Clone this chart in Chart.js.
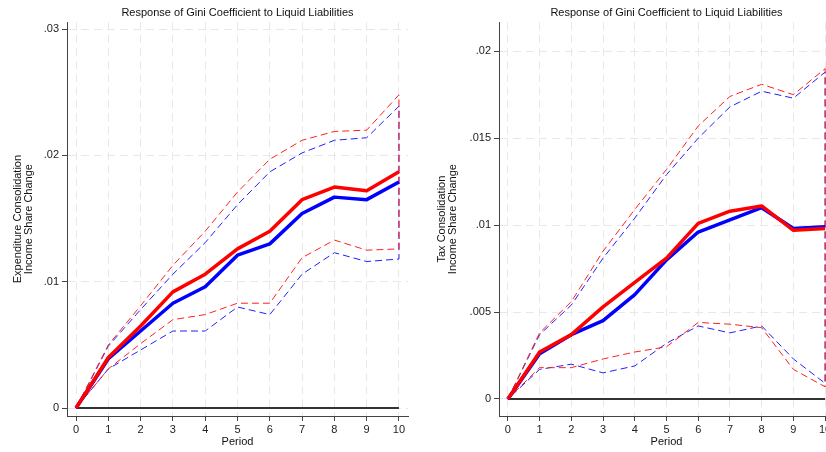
<!DOCTYPE html>
<html>
<head>
<meta charset="utf-8">
<script src="https://cdn.jsdelivr.net/npm/chart.js@4/dist/chart.umd.min.js"></script>
<style>
  html, body { margin: 0; padding: 0; background: #fff; overflow: hidden; }
  #wrap { position: relative; width: 826px; height: 452px; overflow: hidden; }
  #chart0 { position: absolute; left: 0; top: 0; }
  #chart1 { position: absolute; left: 413px; top: 0; }
</style>
</head>
<body>
<div id="wrap">
  <canvas id="chart0" width="413" height="452"></canvas>
  <canvas id="chart1" width="426" height="452"></canvas>
</div>
<script>
const periods = [0, 1, 2, 3, 4, 5, 6, 7, 8, 9, 10];
const zeroLine = [0, 0, 0, 0, 0, 0, 0, 0, 0, 0, 0];
const chartTitle = "Response of Gini Coefficient to Liquid Liabilities";

// left panel: expenditure consolidation
const expRed = [0, 0.0040, 0.0065, 0.0092, 0.0106, 0.0126, 0.0140, 0.0165, 0.0175, 0.0172, 0.0187];
const expRedUp = [0, 0.0050, 0.0081, 0.0113, 0.0140, 0.0171, 0.0197, 0.0212, 0.0219, 0.0220, 0.0248];
const expRedLo = [0, 0.0031, 0.0051, 0.0070, 0.0074, 0.0083, 0.0083, 0.0119, 0.0133, 0.0125, 0.0126];
const expBlue = [0, 0.0039, 0.0061, 0.0083, 0.0096, 0.0121, 0.0130, 0.0154, 0.0167, 0.0165, 0.0179];
const expBlueUp = [0, 0.0049, 0.0078, 0.0106, 0.0131, 0.0161, 0.0187, 0.0202, 0.0212, 0.0214, 0.0239];
const expBlueLo = [0, 0.0031, 0.0046, 0.0061, 0.0061, 0.0080, 0.0074, 0.0106, 0.0123, 0.0116, 0.0118];

// right panel: tax consolidation
const taxRed = [0, 0.0027, 0.0037, 0.0053, 0.0067, 0.0081, 0.0101, 0.0108, 0.0111, 0.0097, 0.0098];
const taxRedUp = [0, 0.0038, 0.0056, 0.0085, 0.0109, 0.0132, 0.0157, 0.0174, 0.0181, 0.0175, 0.0190];
const taxRedLo = [0, 0.0018, 0.0018, 0.0023, 0.0027, 0.0030, 0.0044, 0.0043, 0.0041, 0.0017, 0.0007];
const taxBlue = [0, 0.0026, 0.0037, 0.0045, 0.0060, 0.0080, 0.0096, 0.0103, 0.0110, 0.0098, 0.0099];
const taxBlueUp = [0, 0.0037, 0.0054, 0.0081, 0.0104, 0.0129, 0.0150, 0.0168, 0.0177, 0.0173, 0.0188];
const taxBlueLo = [0, 0.0017, 0.0020, 0.0015, 0.0019, 0.0032, 0.0042, 0.0038, 0.0042, 0.0023, 0.0009];

Chart.defaults.font.family = "'Liberation Sans', Arial, Helvetica, sans-serif";
Chart.defaults.color = "#222";

function pts(values) {
  return periods.map((p, i) => ({ x: p, y: values[i] }));
}

// upper band out to period 10, then lower band back to 0 (one path, like stata)
function band(up, lo) {
  return pts(up).concat(pts(lo).reverse());
}

function fmt(v) {
  if (Math.abs(v) < 1e-9) return "0";
  return parseFloat(v.toFixed(4)).toString().replace(/^0\./, ".");
}

function createChart(canvasId, opts) {
  let ctx = document.getElementById(canvasId).getContext("2d");
  const solid = (data, color) => ({
    data: data, borderColor: color, borderWidth: 3.5, pointRadius: 0,
    fill: false, tension: 0, borderJoinStyle: "round"
  });
  const dashed = (data, color) => ({
    data: data, borderColor: color, borderWidth: 1, borderDash: [7, 4],
    pointRadius: 0, fill: false, tension: 0
  });

  return new Chart(ctx, {
    type: "line",
    data: {
      // first dataset is drawn on top
      datasets: [
        solid(pts(opts.red), "#ff0000"),
        solid(pts(opts.blue), "#0000ff"),
        dashed(band(opts.redUp, opts.redLo), "#ff2020"),
        dashed(band(opts.blueUp, opts.blueLo), "#2020ff"),
        { data: pts(zeroLine), borderColor: "#333", borderWidth: 2, pointRadius: 0, fill: false }
      ]
    },
    options: {
      responsive: false,
      animation: false,
      layout: { padding: { left: 0, right: 5, top: 0, bottom: 0 } },
      plugins: {
        legend: { display: false },
        tooltip: { enabled: false },
        title: {
          display: true,
          text: chartTitle,
          fullSize: false,
          font: { size: 11, weight: "normal" },
          color: "#111",
          padding: { top: 6, bottom: 3 }
        }
      },
      scales: {
        x: {
          type: "linear",
          min: -0.28,
          max: 10.28,
          afterFit: (s) => { s.height = 36; },
          ticks: { stepSize: 1, includeBounds: false, padding: 2, font: { size: 11 }, color: "#222", maxRotation: 0 },
          grid: { color: "#e8e8e8", lineWidth: 1, tickLength: 5, tickColor: "#444", tickBorderDash: [] },
          border: { display: true, color: "#444", width: 1, dash: [8, 5] },
          title: { display: true, text: "Period", font: { size: 11, lineHeight: 1.2 }, color: "#111", padding: { top: 0, bottom: 3 } }
        },
        y: {
          type: "linear",
          min: opts.yMin,
          max: opts.yMax,
          afterFit: (s) => { s.width = opts.yWidth; },
          ticks: { stepSize: opts.yStep, includeBounds: false, padding: 3, font: { size: 11 }, color: "#222", callback: (v) => fmt(v) },
          grid: { color: "#e8e8e8", lineWidth: 1, tickLength: 5, tickColor: "#444", tickBorderDash: [] },
          border: { display: true, color: "#444", width: 1, dash: [8, 5] },
          title: { display: true, text: opts.yTitle, font: { size: 11, lineHeight: 1.05 }, color: "#111", padding: { top: opts.yTitlePad, bottom: 0 } }
        }
      }
    }
  });
}

let chart0 = createChart("chart0", {
  red: expRed, redUp: expRedUp, redLo: expRedLo,
  blue: expBlue, blueUp: expBlueUp, blueLo: expBlueLo,
  yMin: -0.00063, yMax: 0.03055, yStep: 0.01, yWidth: 67, yTitlePad: 12,
  yTitle: ["Expenditure Consolidation", "Income Share Change"]
});

let chart1 = createChart("chart1", {
  red: taxRed, redUp: taxRedUp, redLo: taxRedLo,
  blue: taxBlue, blueUp: taxBlueUp, blueLo: taxBlueLo,
  yMin: -0.00098, yMax: 0.02167, yStep: 0.005, yWidth: 86, yTitlePad: 23,
  yTitle: ["Tax Consolidation", "Income Share Change"]
});
</script>
</body>
</html>
